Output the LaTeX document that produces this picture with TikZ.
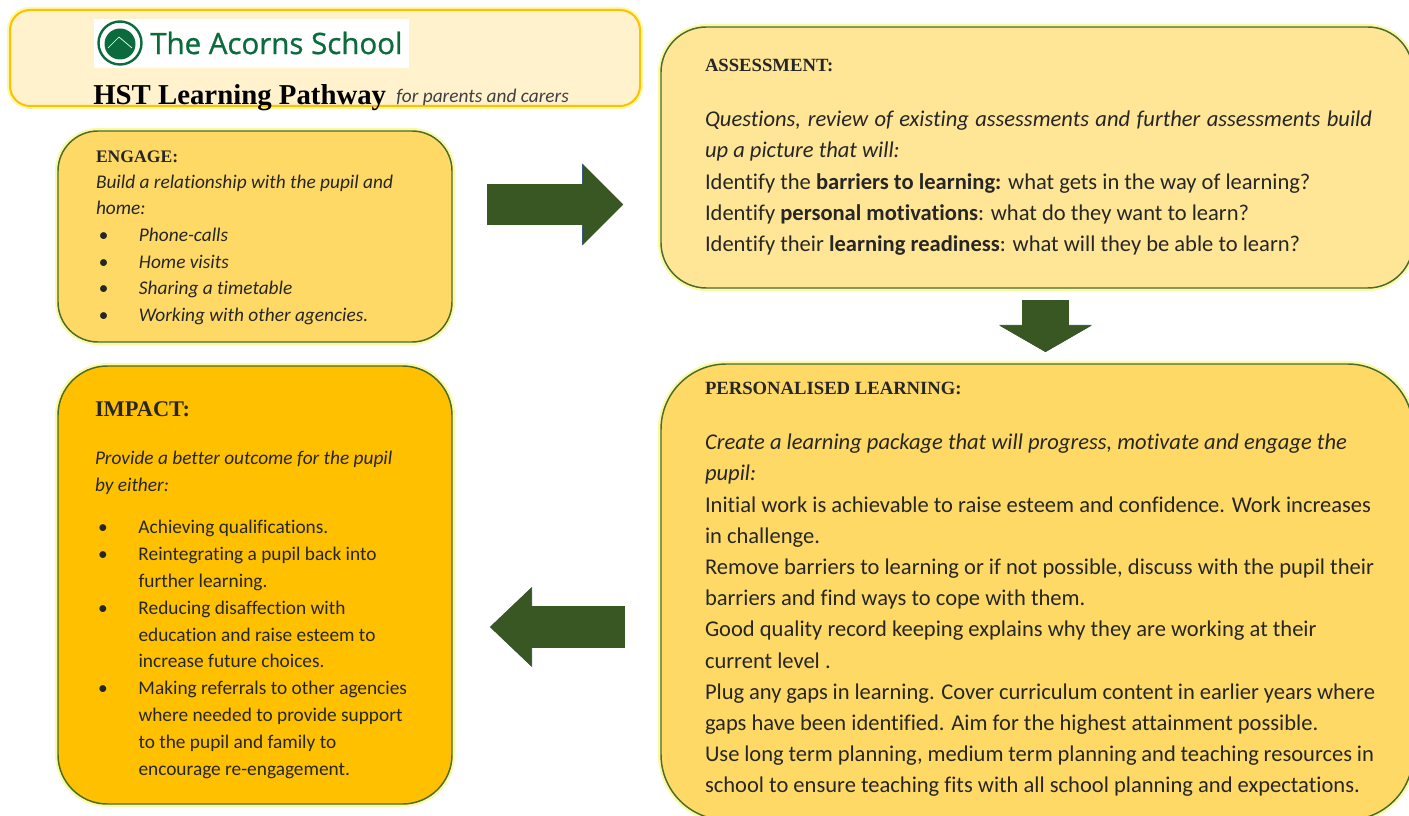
\documentclass[tikz,border=0pt]{standalone}
\usepackage{fontspec}
\setmainfont[RawFeature={-liga}]{Carlito}
\newfontfamily\headfont{Liberation Serif}
\newfontfamily\logofont[FakeBold=0.9]{Open Sans}
\usepackage{xcolor}
\usetikzlibrary{arrows.meta}
\definecolor{paleamber}{HTML}{FFF2CC}
\definecolor{softamber}{HTML}{FFE596}
\definecolor{midamber}{HTML}{FFD966}
\definecolor{deepamber}{HTML}{FFC000}
\definecolor{boxedge}{HTML}{4A6B2F}
\definecolor{boxglow}{HTML}{FAFAA5}
\definecolor{arrowgreen}{HTML}{385723}
\definecolor{arrowedge}{HTML}{3A5A8C}
\definecolor{logogreen}{HTML}{0B6B3C}
\newcommand{\bul}{\makebox[32.25pt][l]{\hspace{2pt}\textbullet}}
\newcommand{\hng}{\hspace*{32.25pt}}
\newcommand{\fitline}[2]{\makebox[#1][s]{#2}}
\tikzset{
	stagebox/.style={draw=boxedge,line width=1.1pt,inner sep=0pt,outer sep=0pt,
		preaction={draw=boxglow,line width=4.5pt}},
	headbox/.style={draw=deepamber,line width=1.5pt,inner sep=0pt,outer sep=0pt,
		preaction={draw=boxglow,line width=4.5pt}},
	blocktext/.style={anchor=north west,inner sep=0pt,outer sep=0pt,align=left,text=black!85},
	blockarrow/.style n args={3}{line width=#1-.6pt,draw=arrowgreen,
		preaction={draw=arrowedge,line width=#1,
			-{Triangle[length=#2,width=#3,line width=0pt 0 0]}},
		-{Triangle[length=#2-.6pt,width=#3-1.2pt,line width=0pt 0 0]}},
}
\begin{document}
\begin{tikzpicture}[x=0.75pt,y=-0.75pt]
	\useasboundingbox (0,0) rectangle (1409,816);
	% header
	\node [headbox,fill=paleamber,rounded corners=15pt,minimum width=472.5pt,minimum height=72pt] (header) at (325,58) {};
	\node [fill=white,inner sep=0pt,minimum width=236.25pt,minimum height=36.75pt] (logoback) at (251.5,43.5) {};
	\draw [logogreen,line width=1.8pt] (120,43) circle (21.5);
	\fill [logogreen] (120,44) circle (15.5);
	\draw [white,line width=.5pt] (108,48) -- (119,37) -- (132,48);
	\node [anchor=west,inner sep=0pt,text=logogreen,font=\logofont\fontsize{22.1}{25}\selectfont] (logoname) at (150,43) {The Acorns School};
	\node [anchor=base west,inner sep=0pt,text=black,font=\headfont\bfseries\fontsize{21.6}{24}\selectfont] (pathway) at (93,105) {HST Learning Pathway};
	\node [anchor=base west,inner sep=0pt,text=black!75,font=\itshape\fontsize{14.5}{15}\selectfont] (audience) at (396,103) {for parents and carers};
	% engage
	\node [stagebox,fill=midamber,rounded corners=30pt,minimum width=295.5pt,minimum height=158.25pt] (engage) at (255,236.5) {};
	\node [blocktext,font=\headfont\bfseries\fontsize{13.2}{15}\selectfont] (engagehead) at (96,151) {ENGAGE:};
	\node [blocktext,font=\itshape\fontsize{14.5}{19.9}\selectfont] (engagetext) at (96,175) {Build a relationship with the pupil and\\
		home:\\
		\bul Phone-calls\\
		\bul Home visits\\
		\bul Sharing a timetable\\
		\bul Working with other agencies.};
	% assessment
	\node [stagebox,fill=softamber,rounded corners=34pt,minimum width=564pt,minimum height=195.75pt] (assessment) at (1037,157.5) {};
	\node [blocktext,font=\headfont\bfseries\fontsize{14}{15}\selectfont] (assesshead) at (705,59) {ASSESSMENT:};
	\node [blocktext,font=\fontsize{16.9}{23.4}\selectfont] (assesstext) at (705,111) {\fitline{500.25pt}{\textit{Questions, review of existing assessments and further assessments build}}\\
		\textit{up a picture that will:}\\
		Identify the \textbf{barriers to learning:} what gets in the way of learning?\\
		Identify \textbf{personal motivations}: what do they want to learn?\\
		Identify their \textbf{learning readiness}: what will they be able to learn?};
	% personalised learning
	\node [stagebox,fill=midamber,rounded corners=49pt,minimum width=564pt,minimum height=342pt] (personalised) at (1037,592) {};
	\node [blocktext,font=\headfont\bfseries\fontsize{14}{15}\selectfont] (personalhead) at (705,382) {PERSONALISED LEARNING:};
	\node [blocktext,font=\fontsize{16.9}{23.4}\selectfont] (personaltext) at (705,434) {\textit{Create a learning package that will progress, motivate and engage the}\\
		\textit{pupil:}\\
		Initial work is achievable to raise esteem and confidence. Work increases\\
		in challenge.\\
		\fitline{501.75pt}{Remove barriers to learning or if not possible, discuss with the pupil their}\\
		barriers and find ways to cope with them.\\
		Good quality record keeping explains why they are working at their\\
		current level .\\
		\fitline{502.5pt}{Plug any gaps in learning. Cover curriculum content in earlier years where}\\
		gaps have been identified. Aim for the highest attainment possible.\\
		\fitline{501.75pt}{Use long term planning, medium term planning and teaching resources in}\\
		school to ensure teaching fits with all school planning and expectations.};
	% impact
	\node [stagebox,fill=deepamber,rounded corners=37pt,minimum width=295.5pt,minimum height=328.5pt] (impact) at (255,585) {};
	\node [blocktext,font=\headfont\bfseries\fontsize{16.8}{20}\selectfont] (impacthead) at (95,402) {IMPACT:};
	\node [blocktext,font=\itshape\fontsize{14.5}{20}\selectfont] (impactintro) at (95,451.5) {Provide a better outcome for the pupil\\
		by either:};
	\node [blocktext,font=\fontsize{14.5}{20.1}\selectfont] (impactlist) at (95.5,520.5) {\bul Achieving qualifications.\\
		\bul Reintegrating a pupil back into\\
		\hng further learning.\\
		\bul Reducing disaffection with\\
		\hng education and raise esteem to\\
		\hng increase future choices.\\
		\bul Making referrals to other agencies\\
		\hng where needed to provide support\\
		\hng to the pupil and family to\\
		\hng encourage re-engagement.};
	% arrows between the stages
	\draw [blockarrow={30.75pt}{30.75pt}{61.5pt},shorten <=26.25pt,shorten >=28.5pt] (engage.east |- 0,204.5) -- (assessment.west |- 0,204.5);
	\draw [blockarrow={35.25pt}{20.25pt}{69.75pt},shorten <=9pt,shorten >=9pt] (1045.5,0 |- assessment.south) -- (1045.5,0 |- personalised.north);
	\draw [blockarrow={31.5pt}{31.5pt}{60pt},shorten <=27pt,shorten >=28.5pt] (personalised.west |- 0,627) -- (impact.east |- 0,627);
\end{tikzpicture}
\end{document}
